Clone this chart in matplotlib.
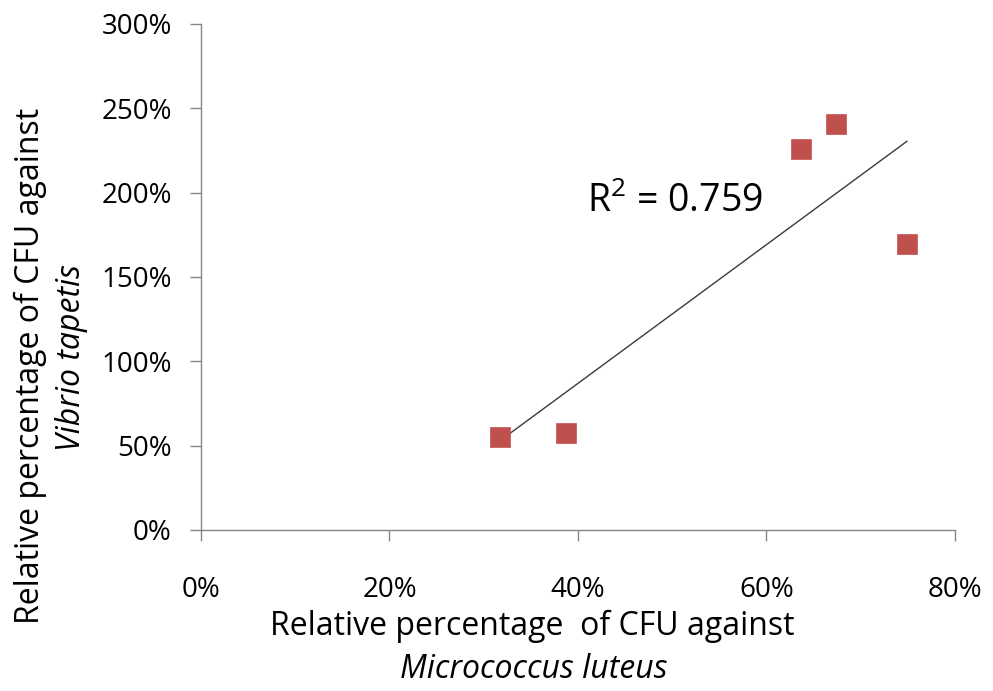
import numpy as np
import matplotlib.pyplot as plt
from matplotlib.ticker import PercentFormatter

# relative CFU (%) against Micrococcus luteus vs Vibrio tapetis
micrococcus = [31.7, 38.7, 63.7, 67.4, 74.9]
vibrio = [55.1, 57.5, 225.9, 240.7, 169.6]
x_ticks = [0, 20, 40, 60, 80]
y_ticks = [0, 50, 100, 150, 200, 250, 300]
r2_label = 'R$^2$ = 0.759'

plt.rcParams['font.family'] = ['Open Sans', 'DejaVu Sans']
plt.rcParams['mathtext.fontset'] = 'custom'
plt.rcParams['mathtext.rm'] = 'Open Sans'

fig = plt.figure(figsize=(9.93, 6.91), dpi=100)
ax = fig.add_axes([0.2024, 0.233, 0.7593, 0.7323])

axis_grey = '#868686'
tick_fs = 20
title_fs = 23

# linear trendline over the data range
slope, intercept = np.polyfit(micrococcus, vibrio, 1)
xs = np.array([min(micrococcus), max(micrococcus)])
ax.plot(xs, slope * xs + intercept, color='#3a3a3a', linewidth=1.0, zorder=2)

ax.plot(micrococcus, vibrio, linestyle='none', marker='s', markersize=14,
        markerfacecolor='#C0504D', markeredgecolor='#C8605D',
        markeredgewidth=0.6, zorder=3)

ax.text(41.0, 188.5, r2_label, fontsize=27, va='baseline')

ax.set_xlim(0, 80)
ax.set_ylim(0, 300)
ax.set_xticks(x_ticks)
ax.set_yticks(y_ticks)
ax.xaxis.set_major_formatter(PercentFormatter(decimals=0))
ax.yaxis.set_major_formatter(PercentFormatter(decimals=0))

for side in ['top', 'right']:
    ax.spines[side].set_visible(False)
for side in ['left', 'bottom']:
    ax.spines[side].set_color(axis_grey)
    ax.spines[side].set_linewidth(1.0)

ax.tick_params(axis='x', direction='out', length=8, width=1.0,
               color=axis_grey, pad=25, labelsize=tick_fs)
ax.tick_params(axis='y', direction='out', length=8, width=1.0,
               color=axis_grey, pad=13, labelsize=tick_fs)

# two-line axis titles with italic species names
fig.text(532 / 993, 1 - 626 / 691, 'Relative percentage  of CFU against',
         fontsize=title_fs, ha='center', va='center')
fig.text(534 / 993, 1 - 669 / 691, 'Micrococcus luteus', fontsize=title_fs,
         style='italic', ha='center', va='center')
fig.text(30 / 993, 1 - 366 / 691, 'Relative percentage of CFU against',
         fontsize=title_fs, rotation=90, ha='center', va='center')
fig.text(72 / 993, 1 - 358 / 691, 'Vibrio tapetis', fontsize=title_fs,
         style='italic', rotation=90, ha='center', va='center')

fig.savefig('out.png', dpi=100)
